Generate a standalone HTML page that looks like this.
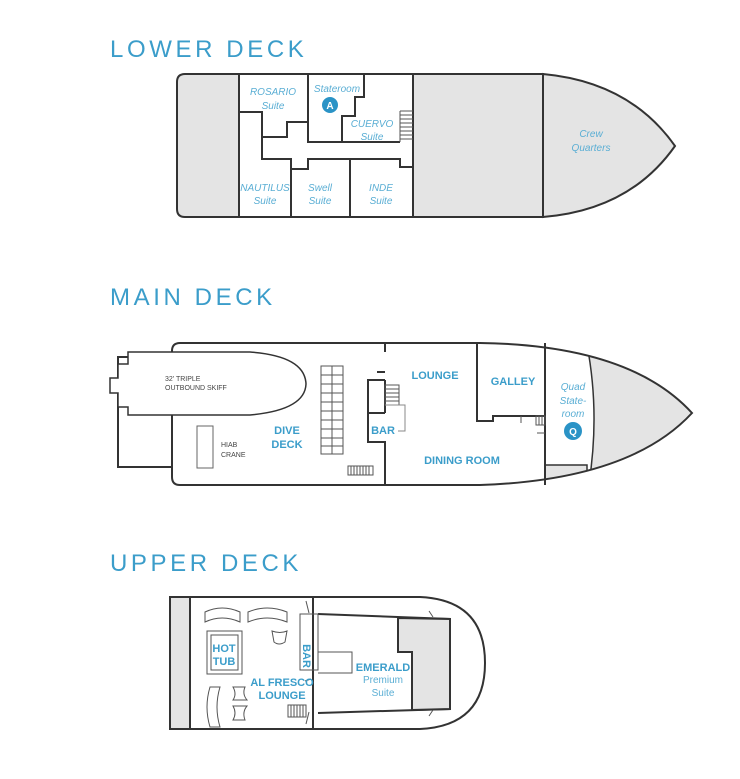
<!DOCTYPE html>
<html><head><meta charset="utf-8"><style>
html,body{margin:0;padding:0;background:#fff;}
svg{display:block;}
.t{font-family:"Liberation Sans",sans-serif;fill:#3b9dca;}
.title{font-size:24px;letter-spacing:3.6px;}
.it{font-style:italic;font-size:10px;fill:#5aaed4;}
.b{font-weight:bold;font-size:11px;fill:#3b9dca;}
.sm{font-family:"Liberation Sans",sans-serif;font-size:7px;fill:#444;}
.l{fill:none;stroke:#333;stroke-width:2;}
.th{fill:none;stroke:#555;stroke-width:1;}
.g{fill:#e4e4e4;stroke:#333;stroke-width:2;}
</style></head><body>
<svg width="740" height="779" viewBox="0 0 740 779" xmlns="http://www.w3.org/2000/svg">
<defs>
<clipPath id="hull"><path d="M180,343 L480,343 Q630,345 692,413 Q630,480 480,485 L180,485 Q172,485 172,477 L172,351 Q172,343 180,343 Z"/></clipPath>
</defs>
<!-- TITLES -->
<text class="t title" x="110" y="57">LOWER DECK</text>
<text class="t title" x="110" y="305">MAIN DECK</text>
<text class="t title" x="110" y="571">UPPER DECK</text>

<!-- LOWER DECK -->
<path class="g" d="M239,74 L185,74 Q177,74 177,82 L177,209 Q177,217 185,217 L239,217 Z"/>
<rect x="413" y="74" width="130" height="143" fill="#e4e4e4" stroke="#333" stroke-width="2"/>
<path class="g" d="M543,74 L543,217 Q630,210 675,146 Q630,82 543,74 Z"/>
<path class="l" d="M185,74 L543,74 M185,217 L543,217"/>
<path class="l" d="M239,74 L239,217 M308,74 L308,142 L400,142 M239,112 L262,112 L262,159 L291,159 L291,217 M262,137 L287,137 L287,122 L308,122 M291,169 L308,169 L308,159 L400,159 L400,167 L413,167 M350,159 L350,217 M342,142 L342,116 L355,116 L355,97 L364,97 L364,74"/>
<g class="th"><path d="M400,111 L413,111 M400,115 L413,115 M400,119 L413,119 M400,123 L413,123 M400,127 L413,127 M400,131 L413,131 M400,135 L413,135 M400,139 L413,139 M400,111 L400,142"/></g>
<text class="t it" x="273" y="95" text-anchor="middle">ROSARIO</text>
<text class="t it" x="273" y="109" text-anchor="middle">Suite</text>
<text class="t it" x="337" y="92" text-anchor="middle">Stateroom</text>
<circle cx="330" cy="105" r="8" fill="#2a93c6"/>
<text x="330" y="109" text-anchor="middle" font-family="Liberation Sans" font-weight="bold" font-size="10" fill="#fff">A</text>
<text class="t it" x="372" y="127" text-anchor="middle">CUERVO</text>
<text class="t it" x="372" y="140" text-anchor="middle">Suite</text>
<text class="t it" x="265" y="191" text-anchor="middle">NAUTILUS</text>
<text class="t it" x="265" y="204" text-anchor="middle">Suite</text>
<text class="t it" x="320" y="191" text-anchor="middle">Swell</text>
<text class="t it" x="320" y="204" text-anchor="middle">Suite</text>
<text class="t it" x="381" y="191" text-anchor="middle">INDE</text>
<text class="t it" x="381" y="204" text-anchor="middle">Suite</text>
<text class="t it" x="591" y="137" text-anchor="middle">Crew</text>
<text class="t it" x="591" y="151" text-anchor="middle">Quarters</text>

<!-- MAIN DECK -->
<path class="l" d="M172,357 L118,357 L118,467 L172,467"/>
<g clip-path="url(#hull)">
<path d="M585,335 Q602,413 587,495 L720,495 L720,335 Z" fill="#e4e4e4" stroke="#333" stroke-width="1.5"/>
<rect x="545" y="465" width="42" height="30" fill="#e4e4e4" stroke="#333" stroke-width="1.5"/>
</g>
<path class="l" d="M180,343 L480,343 Q630,345 692,413 Q630,480 480,485 L180,485 Q172,485 172,477 L172,351 Q172,343 180,343 Z"/>
<path fill="#fff" stroke="#333" stroke-width="1.5" d="M128,352 L250,352 Q305,356 306,384 Q305,410 250,415 L128,415 L128,407 L118,407 L118,393 L110,393 L110,378 L118,378 L118,364 L128,364 Z"/>
<text class="sm" x="165" y="381">32' TRIPLE</text>
<text class="sm" x="165" y="390">OUTBOUND SKIFF</text>
<rect x="197" y="426" width="16" height="42" fill="none" stroke="#666" stroke-width="1"/>
<text class="sm" x="221" y="447">HIAB</text>
<text class="sm" x="221" y="457">CRANE</text>
<g class="th">
<rect x="321" y="366" width="22" height="88"/>
<path d="M332,366 L332,454 M321,375 L343,375 M321,384 L343,384 M321,393 L343,393 M321,402 L343,402 M321,411 L343,411 M321,420 L343,420 M321,429 L343,429 M321,438 L343,438 M321,446 L343,446"/>
<rect x="348" y="466" width="25" height="9"/>
<path d="M351,466 V475 M354,466 V475 M357,466 V475 M360,466 V475 M363,466 V475 M366,466 V475 M369,466 V475"/>
</g>
<text class="t b" x="287" y="434" text-anchor="middle">DIVE</text>
<text class="t b" x="287" y="448" text-anchor="middle">DECK</text>
<path class="l" d="M385,343 L385,352 M385,380 L368,380 L368,442 L385,442 L385,485 M368,413 L385,413 M385,380 L385,413 M377,372 L385,372"/>
<g class="th">
<rect x="385" y="385" width="14" height="20"/>
<path d="M385,389 H399 M385,393 H399 M385,397 H399 M385,401 H399"/>
<path d="M385,405 L405,405 L405,431 L398,431" stroke="#888"/>
</g>
<text class="t b" x="383" y="434" text-anchor="middle">BAR</text>
<text class="t b" x="435" y="379" text-anchor="middle">LOUNGE</text>
<path class="l" d="M477,343 L477,421 L493,421 L493,416 L545,416 M545,343 L545,485"/>
<g class="th"><rect x="536" y="416" width="9" height="9"/><path d="M539,416 V425 M542,416 V425 M521,416 V423 M545,433 L537,433"/></g>
<text class="t b" x="513" y="385" text-anchor="middle">GALLEY</text>
<text class="t b" x="462" y="464" text-anchor="middle">DINING ROOM</text>
<text class="t it" x="573" y="390" text-anchor="middle">Quad</text>
<text class="t it" x="573" y="404" text-anchor="middle">State-</text>
<text class="t it" x="573" y="417" text-anchor="middle">room</text>
<circle cx="573" cy="431" r="9" fill="#2a93c6"/>
<text x="573" y="435" text-anchor="middle" font-family="Liberation Sans" font-weight="bold" font-size="10" fill="#fff">Q</text>

<!-- UPPER DECK -->
<rect x="170" y="597" width="20" height="132" fill="#e4e4e4" stroke="#333" stroke-width="2"/>
<path class="l" d="M170,597 L420,597 Q485,600 485,663 Q485,726 420,729 L170,729 Z"/>
<path class="l" d="M313,597 L313,729 M318,614 L450,619 L450,709 L318,713"/>
<path class="g" d="M398,618 L450,619 L450,709 L412,710 L412,652 L398,652 Z"/>
<path class="th" d="M300,614 L318,614 L318,670 L300,670 Z M318,652 L352,652 L352,673 L318,673"/>
<text class="t b" transform="translate(303,656) rotate(90)" text-anchor="middle">BAR</text>
<g class="th" stroke="#666">
<rect x="207" y="631" width="35" height="43"/>
<rect x="211" y="635" width="27" height="35"/>
<path d="M205,622 L205,612 Q222,604 240,612 L240,622 Q222,614 205,622 Z"/>
<path d="M248,622 L248,612 Q267,604 287,612 L287,622 Q267,614 248,622 Z"/>
<path d="M272,631 Q280,634 287,631 L285,642 Q279,646 274,642 Z"/>
<path d="M210,687 L220,687 Q214,707 220,727 L210,727 Q204,707 210,687 Z"/>
<path d="M233,687 L245,687 Q242,694 247,700 L233,700 Q237,694 233,687 Z"/>
<path d="M233,706 L247,706 Q242,712 245,720 L233,720 Q237,713 233,706 Z"/>
<rect x="288" y="705" width="18" height="12"/>
<path d="M291,705 V717 M294,705 V717 M297,705 V717 M300,705 V717 M303,705 V717"/>
<path d="M306,601 L309,613 M306,724 L309,712 M429,611 L433,617 M429,716 L433,710 M305,681 L311,679"/>
</g>
<text class="t b" x="224" y="652" text-anchor="middle">HOT</text>
<text class="t b" x="224" y="665" text-anchor="middle">TUB</text>
<text class="t b" x="282" y="686" text-anchor="middle">AL FRESCO</text>
<text class="t b" x="282" y="699" text-anchor="middle">LOUNGE</text>
<text class="t b" x="383" y="671" text-anchor="middle">EMERALD</text>
<text class="t it" x="383" y="683" text-anchor="middle" style="font-style:normal">Premium</text>
<text class="t it" x="383" y="696" text-anchor="middle" style="font-style:normal">Suite</text>
</svg>
</body></html>
